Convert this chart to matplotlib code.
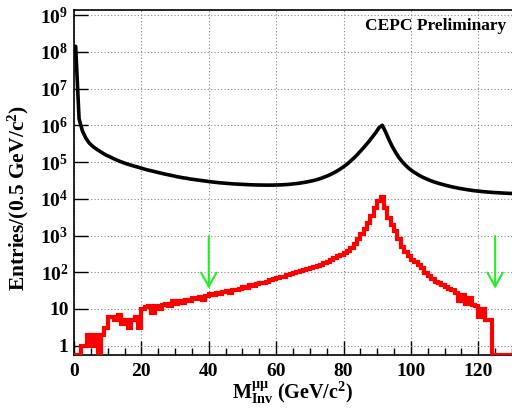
import numpy as np
import matplotlib
matplotlib.use("Agg")
import matplotlib.pyplot as plt
from matplotlib.ticker import FixedLocator, LogLocator, NullFormatter, MultipleLocator

plt.rcParams['font.family'] = ['Liberation Serif', 'DejaVu Serif']
plt.rcParams['font.weight'] = 'bold'
plt.rcParams['mathtext.fontset'] = 'custom'
plt.rcParams['mathtext.rm'] = 'Liberation Serif:bold'
plt.rcParams['mathtext.it'] = 'Liberation Serif:bold'
plt.rcParams['mathtext.bf'] = 'Liberation Serif:bold'

# ---- data (1 GeV bins from 0 to 130) ----
bin_edges_gev = list(range(0, 131))

background_counts = [
    1.4e8, 1.5e6, 7e5, 4.5e5, 3.3e5, 2.7e5, 2.3e5, 2.0e5, 1.75e5, 1.55e5,
    1.4e5, 1.27e5, 1.15e5, 1.05e5, 9.7e4, 9.0e4, 8.4e4, 7.9e4, 7.4e4, 7.0e4,
    6.6e4, 6.2e4, 5.9e4, 5.6e4, 5.3e4, 5.05e4, 4.8e4, 4.6e4, 4.4e4, 4.2e4,
    4.0e4, 3.85e4, 3.7e4, 3.6e4, 3.45e4, 3.35e4, 3.25e4, 3.15e4, 3.05e4, 2.97e4,
    2.9e4, 2.83e4, 2.77e4, 2.71e4, 2.66e4, 2.61e4, 2.57e4, 2.53e4, 2.5e4, 2.47e4,
    2.44e4, 2.42e4, 2.4e4, 2.38e4, 2.37e4, 2.36e4, 2.35e4, 2.35e4, 2.35e4, 2.36e4,
    2.37e4, 2.39e4, 2.42e4, 2.45e4, 2.5e4, 2.55e4, 2.62e4, 2.7e4, 2.8e4, 2.92e4,
    3.05e4, 3.2e4, 3.4e4, 3.65e4, 3.95e4, 4.3e4, 4.75e4, 5.3e4, 6.0e4, 6.9e4,
    8.0e4, 9.5e4, 1.15e5, 1.4e5, 1.75e5, 2.2e5, 2.8e5, 3.6e5, 4.7e5, 6.2e5,
    8.5e5, 1.0e6, 6.5e5, 4.0e5, 2.6e5, 1.8e5, 1.3e5, 1.0e5, 8.0e4, 6.6e4,
    5.6e4, 4.9e4, 4.3e4, 3.85e4, 3.5e4, 3.2e4, 2.95e4, 2.75e4, 2.58e4, 2.43e4,
    2.3e4, 2.18e4, 2.08e4, 1.99e4, 1.91e4, 1.84e4, 1.78e4, 1.72e4, 1.67e4, 1.63e4,
    1.59e4, 1.56e4, 1.53e4, 1.5e4, 1.48e4, 1.46e4, 1.44e4, 1.42e4, 1.41e4, 1.4e4,
]

signal_counts = [
    0, 0, 1, 1, 2, 1, 2, 0, 2, 3,
    6, 6, 5, 7, 4, 5, 3, 5, 6, 3,
    10, 11, 12, 8, 12, 10, 13, 14, 12, 16,
    14, 17, 15, 18, 16, 20, 19, 21, 18, 22,
    26, 24, 27, 25, 29, 30, 28, 33, 32, 36,
    40, 38, 44, 42, 48, 52, 50, 56, 60, 64,
    69, 72, 76, 82, 88, 94, 100, 108, 114, 122,
    130, 140, 150, 162, 178, 196, 215, 240, 270, 300,
    330, 390, 470, 580, 800, 1100, 1500, 2200, 3500, 5500,
    8500, 11500, 5500, 3000, 1900, 1300, 800, 500, 360, 270,
    215, 185, 160, 130, 95, 80, 65, 56, 50, 45,
    40, 36, 33, 28, 16, 24, 14, 20, 13, 12,
    6, 10, 5, 5, 0, 0, 0, 0, 0, 0,
]

arrow_positions = [40, 125]
arrow_top, arrow_tip = 1150, 30

y_tick_values = [1, 10, 1e2, 1e3, 1e4, 1e5, 1e6, 1e7, 1e8, 1e9]
y_tick_labels = ['1', '10', r'$10^{2}$', r'$10^{3}$', r'$10^{4}$', r'$10^{5}$',
                 r'$10^{6}$', r'$10^{7}$', r'$10^{8}$', r'$10^{9}$']
x_tick_values = [0, 20, 40, 60, 80, 100, 120]

YMIN, YMAX = 0.56, 1.37e9

fig = plt.figure(figsize=(5.12, 4.12), dpi=100)
ax = fig.add_axes([74/512, 1-355/412, 1-74/512, (355-10)/412])
ax.set_yscale('log')
ax.set_xlim(0, 130)
ax.set_ylim(YMIN, YMAX)

edges = np.array(bin_edges_gev, dtype=float)
centers = 0.5 * (edges[:-1] + edges[1:])
bkg = np.array(background_counts, dtype=float)
sig = np.array(signal_counts, dtype=float)
sig_draw = np.where(sig > 0, sig, YMIN)

# background drawn as a smooth line through bin centres, starting at the left edge
ax.plot(np.r_[edges[0] + 0.2, centers], np.r_[bkg[0], bkg], color='black', lw=2.6,
        zorder=3, solid_joinstyle='round')
ax.stairs(sig_draw, edges, baseline=None, color='#ff0000', lw=3.0, zorder=3)

for xa in arrow_positions:
    ax.annotate('', xy=(xa, arrow_tip), xytext=(xa, arrow_top),
                arrowprops=dict(arrowstyle='->,head_length=1.0,head_width=0.55',
                                color='#22ee22', lw=1.5), zorder=4)

ax.yaxis.set_major_locator(FixedLocator(y_tick_values))
ax.set_yticklabels(y_tick_labels)
ax.yaxis.set_minor_locator(LogLocator(base=10, subs=np.arange(2, 10)))
ax.yaxis.set_minor_formatter(NullFormatter())
ax.set_xticks(x_tick_values)
ax.xaxis.set_minor_locator(MultipleLocator(5))

ax.tick_params(axis='both', which='major', direction='in', length=10, width=1,
               labelsize=14, top=False, right=False)
ax.tick_params(axis='both', which='minor', direction='in', length=5, width=1,
               top=False, right=False)
ax.tick_params(axis='y', which='major', pad=4)
ax.tick_params(axis='x', which='major', pad=6)
for lbl in ax.get_xticklabels() + ax.get_yticklabels():
    lbl.set_fontweight('bold')

ax.grid(True, which='major', color='#888888', linestyle=(0, (1, 2)), lw=0.8)
ax.spines['right'].set_visible(False)
for s in ['left', 'bottom', 'top']:
    ax.spines[s].set_linewidth(1.2)

ax.text(0.988, 0.978, 'CEPC Preliminary', transform=ax.transAxes, ha='right', va='top',
        fontsize=12.5, fontweight='bold')

fig.text(18/512, 1-198/412, r'Entries/(0.5 GeV/c$^{2}$)', rotation=90, ha='center',
         va='center', fontsize=15.5, fontweight='bold')
fig.text(292/512, 1-393/412, r'M$^{\mu\mu}_{\mathrm{Inv}}$ (GeV/c$^{2}$)', ha='center',
         va='center', fontsize=14.5, fontweight='bold')

fig.savefig('out.png', dpi=100)
